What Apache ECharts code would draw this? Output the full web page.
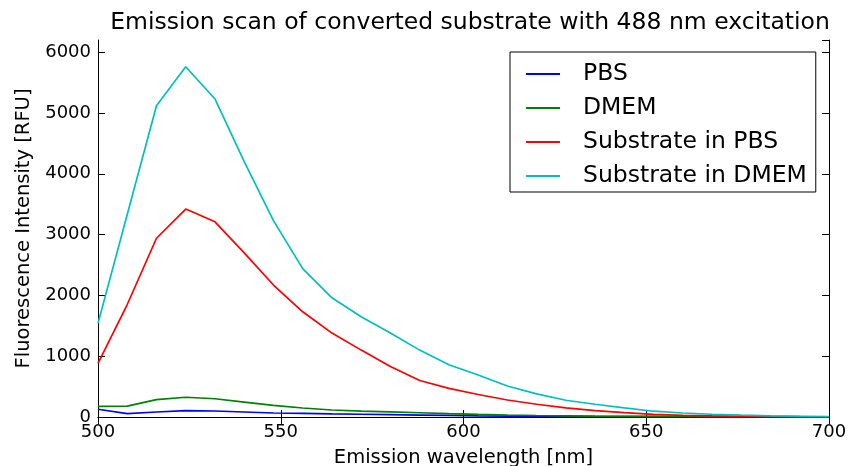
<!DOCTYPE html>
<html>
<head>
<meta charset="utf-8">
<script src="https://cdn.jsdelivr.net/npm/echarts@6/dist/echarts.min.js"></script>
<style>
  html, body { margin: 0; padding: 0; background: #fff; }
  #chart { width: 849px; height: 466px; }
</style>
</head>
<body>
<div id="chart"></div>
<script>
const wavelengths = [500, 508, 516, 524, 532, 540, 548, 556, 564, 572, 580, 588, 596, 604, 612, 620, 628, 636, 644, 652, 660, 668, 676, 684, 692, 700];
const pbs = [128, 56, 82, 105, 99, 82, 66, 58, 50, 45, 38, 32, 26, 20, 16, 13, 10, 8, 6, 5, 4, 3, 3, 2, 2, 2];
const dmem = [175, 180, 285, 325, 300, 245, 190, 148, 115, 98, 85, 70, 55, 42, 32, 25, 20, 15, 12, 10, 8, 6, 5, 4, 3, 3];
const substrateInPBS = [880, 1850, 2940, 3420, 3210, 2700, 2170, 1730, 1380, 1100, 830, 600, 470, 370, 280, 210, 150, 105, 72, 42, 28, 18, 12, 8, 5, 3];
const substrateInDMEM = [1540, 3330, 5120, 5760, 5230, 4200, 3230, 2440, 1960, 1650, 1380, 1100, 860, 690, 510, 380, 275, 210, 150, 95, 66, 45, 30, 20, 12, 8];
const seriesNames = ['PBS', 'DMEM', 'Substrate in PBS', 'Substrate in DMEM'];
const seriesColors = ['#0000ff', '#008000', '#ff0000', '#00bfbf'];
const xTicks = { min: 500, max: 700, interval: 50 };
const yTicks = { min: 0, max: 6200, interval: 1000 };

const FONT = 'DejaVu Sans';
const pairs = ys => wavelengths.map((x, i) => [x, ys[i]]);
const allValues = [pbs, dmem, substrateInPBS, substrateInDMEM];

const chart = echarts.init(document.getElementById('chart'), null, { renderer: 'canvas' });
const axisLine = { show: true, lineStyle: { color: '#000', width: 1 } };
const tickIn = { show: true, inside: true, length: 7, lineStyle: { color: '#000', width: 1 } };
const plain = v => String(v);

chart.setOption({
  animation: false,
  backgroundColor: '#fff',
  title: {
    text: 'Emission scan of converted substrate with 488 nm excitation',
    left: 465, top: 6, textAlign: 'center',
    textStyle: { fontFamily: FONT, fontSize: 23.5, fontWeight: 'normal', color: '#000' }
  },
  grid: { left: 98, right: 20, top: 40, bottom: 49, containLabel: false, outerBoundsMode: 'none' },
  legend: {
    orient: 'vertical',
    left: 510, top: 52,
    padding: [10, 9, 4, 16],
    icon: 'rect',
    itemWidth: 34, itemHeight: 2, itemGap: 10,
    borderColor: '#000', borderWidth: 1, borderRadius: 0,
    backgroundColor: '#fff',
    textStyle: { fontFamily: FONT, fontSize: 23.5, lineHeight: 24, color: '#000', padding: [0, 0, 0, 18] },
    data: seriesNames
  },
  xAxis: [{
    type: 'value', position: 'bottom', min: xTicks.min, max: xTicks.max, interval: xTicks.interval,
    name: 'Emission wavelength [nm]', nameLocation: 'middle', nameGap: 31,
    nameTextStyle: { fontFamily: FONT, fontSize: 19.5, color: '#000' },
    axisLine, axisTick: tickIn, splitLine: { show: false },
    axisLabel: { fontFamily: FONT, fontSize: 18, color: '#000', margin: 6, formatter: plain }
  }, {
    type: 'value', position: 'top', min: xTicks.min, max: xTicks.max, interval: xTicks.interval,
    axisLine, axisTick: tickIn, splitLine: { show: false }, axisLabel: { show: false }
  }],
  yAxis: [{
    type: 'value', position: 'left', min: yTicks.min, max: yTicks.max, interval: yTicks.interval,
    name: 'Fluorescence Intensity [RFU]', nameLocation: 'middle', nameGap: 61,
    nameTextStyle: { fontFamily: FONT, fontSize: 19.5, color: '#000' },
    axisLine, axisTick: tickIn, splitLine: { show: false },
    axisLabel: { fontFamily: FONT, fontSize: 18, color: '#000', margin: 7, showMaxLabel: false, formatter: plain }
  }, {
    type: 'value', position: 'right', min: yTicks.min, max: yTicks.max, interval: yTicks.interval,
    axisLine, axisTick: tickIn, splitLine: { show: false }, axisLabel: { show: false }
  }],
  series: seriesNames.map((name, i) => ({
    name, type: 'line', xAxisIndex: 0, yAxisIndex: 0,
    data: pairs(allValues[i]),
    symbol: 'none', smooth: false,
    lineStyle: { color: seriesColors[i], width: 1.7 },
    itemStyle: { color: seriesColors[i] }
  }))
});
</script>
</body>
</html>
